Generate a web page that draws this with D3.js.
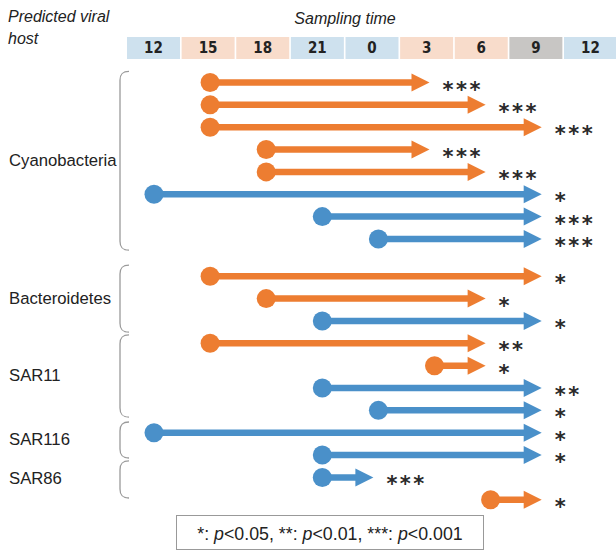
<!DOCTYPE html>
<html><head><meta charset="utf-8">
<script src="https://cdn.jsdelivr.net/npm/d3@7"></script>
<style>body{margin:0;background:#fff}</style>
</head><body><svg id="c" width="616" height="552"></svg>
<script>
// ---- data ----
const times = ["12","15","18","21","0","3","6","9","12"];
const timeKinds = ["day","night","night","day","day","night","night","gray","day"];
const hosts = ["Cyanobacteria","Bacteroidetes","SAR11","SAR116","SAR86"];
const hostOf   = [0,0,0,0,0,0,0,0, 1,1,1, 2,2,2,2, 3,3, 4,4];
const startIdx = [1,1,1,2,2,0,3,4, 1,2,3, 1,5,3,4, 0,3, 3,6];
const endIdx   = [5,6,7,5,6,7,7,7, 7,6,7, 6,6,7,7, 7,7, 4,7];
const series   = ["o","o","o","o","o","b","b","b", "o","o","b", "o","o","b","b", "b","b", "b","o"];
const stars    = ["***","***","***","***","***","*","***","***", "*","*","*", "**","*","**","*", "*","*", "***","*"];
const braceTop    = [-0.5, 8.17, 11.29, 15.19, 16.93];
const braceBottom = [7.5, 11.17, 14.97, 16.8, 18.59];

// ---- layout ----
const svg = d3.select("#c");
const font = "'Liberation Sans', Arial, sans-serif";
const arrowColor = {o:"#ED7D31", b:"#4A90C9"};
const cellColor = {day:"#CEE1EE", night:"#F8DCCB", gray:"#C8C6C4"};

// header
svg.append("text").attr("x",8).attr("y",22).attr("font-family",font).attr("font-style","italic")
  .attr("font-size",16).attr("fill","#222").text("Predicted viral");
svg.append("text").attr("x",8).attr("y",44).attr("font-family",font).attr("font-style","italic")
  .attr("font-size",16).attr("fill","#222").text("host");
svg.append("text").attr("x",345).attr("y",24).attr("text-anchor","middle").attr("font-family",font)
  .attr("font-style","italic").attr("font-size",16).attr("fill","#222").text("Sampling time");

const band = d3.scaleBand().domain(d3.range(times.length)).range([127, 617]).paddingInner(0.03);
const cells = svg.append("g");
cells.selectAll("rect").data(times).join("rect")
  .attr("x",(d,i)=>band(i)).attr("y",37).attr("width",band.bandwidth()).attr("height",22)
  .attr("fill",(d,i)=>cellColor[timeKinds[i]]);
cells.selectAll("text").data(times).join("text")
  .attr("x",(d,i)=>band(i)+band.bandwidth()/2).attr("y",53).attr("text-anchor","middle")
  .attr("font-family","'Liberation Sans Narrow','DejaVu Sans Condensed',sans-serif").attr("font-weight","bold")
  .attr("font-size",15).attr("fill","#222").text(d=>d);

// scales for arrows
const x = d3.scaleLinear().domain([0, 8]).range([154, 154 + 8*56.1]);
const slot = i => i + (hostOf[i] >= 1 ? 0.67 : 0);
const y = d3.scaleLinear().domain([0, 1]).range([82.5, 82.5 + 22.35]);

// braces and labels
const bg = svg.append("g");
hosts.forEach((h, g) => {
  const t = y(braceTop[g]), b = y(braceBottom[g]);
  const xr = 129, xl = 120, r = 9;
  bg.append("path").attr("d",
    `M${xr},${t} C${xl+2},${t} ${xl},${t+3} ${xl},${t+r} L${xl},${b-r} C${xl},${b-3} ${xl+2},${b} ${xr},${b}`)
    .attr("fill","none").attr("stroke","#9a9a9a").attr("stroke-width",1.3);
  bg.append("text").attr("x", 9).attr("y", (t+b)/2 + 5).attr("font-family",font)
    .attr("font-size",16.7).attr("fill","#222").text(h);
});

// arrows
const rows = d3.range(startIdx.length);
const ag = svg.append("g");
rows.forEach(i => {
  const c = arrowColor[series[i]];
  const yy = y(slot(i));
  const x0 = x(startIdx[i]);
  const tip = x(endIdx[i]) - 5;
  const hl = 18, hh = 9;
  ag.append("line").attr("x1",x0).attr("x2",tip-hl+1).attr("y1",yy).attr("y2",yy)
    .attr("stroke",c).attr("stroke-width",6.5);
  ag.append("path").attr("d",`M${tip},${yy} L${tip-hl},${yy-hh} L${tip-hl},${yy+hh} Z`).attr("fill",c);
  ag.append("circle").attr("cx",x0).attr("cy",yy).attr("r",9.5).attr("fill",c);
  ag.append("text").attr("x",tip+13).attr("y",yy+14).attr("font-family","'DejaVu Sans',sans-serif")
    .attr("font-weight","bold").attr("font-size",21).attr("letter-spacing",2.5).attr("fill","#2a2a2a").text(stars[i]);
});

// legend
svg.append("rect").attr("x",176.5).attr("y",515.5).attr("width",307).attr("height",34)
  .attr("fill","#fff").attr("stroke","#999").attr("stroke-width",1);
const lt = svg.append("text").attr("x",330).attr("y",540).attr("text-anchor","middle")
  .attr("font-family",font).attr("font-size",17.8).attr("fill","#222");
const parts = [["*: ",false],["p",true],["<0.05, **: ",false],["p",true],["<0.01, ***: ",false],["p",true],["<0.001",false]];
parts.forEach(([t,it]) => lt.append("tspan").attr("font-style", it ? "italic" : "normal").text(t));
</script></body></html>
